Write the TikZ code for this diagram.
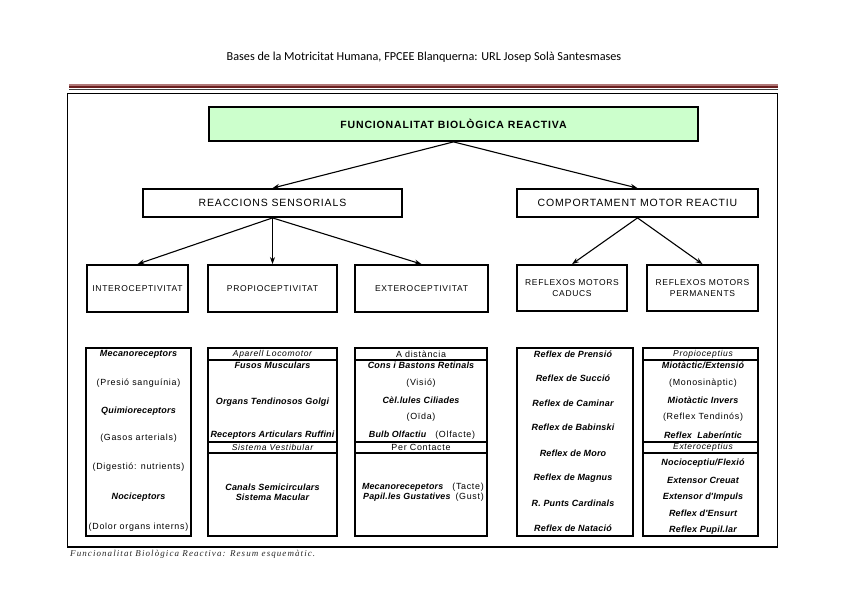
\documentclass[tikz,border=0pt]{standalone}
\usepackage{fontspec}
\setmainfont{Liberation Sans}[LetterSpace=8]
\newfontfamily\hdrfont{Carlito}
\newfontfamily\capfont{Liberation Serif}[LetterSpace=12]
\newfontfamily\bifont{Liberation Sans}[LetterSpace=2]
\usetikzlibrary{arrows.meta}
\definecolor{titlegreen}{HTML}{CCFFCC}
\definecolor{rulelight}{HTML}{B07878}
\definecolor{ruledark}{HTML}{6B1F1F}
\begin{document}
\begin{tikzpicture}[x=1pt,y=-1pt,
  box/.style={draw,line width=1.8pt,inner sep=0pt,align=center},
  arr/.style={line width=1.1pt,-{Stealth[length=7pt,width=5pt]}},
  subthick/.style={line width=1.8pt},
  subthin/.style={line width=1.1pt},
  rg/.style={font=\fontsize{8.9}{10}\selectfont,inner sep=0pt},
  it/.style={font=\fontsize{8.5}{10}\selectfont\itshape,inner sep=0pt},
  bi/.style={font=\fontsize{9}{10}\selectfont\bifont\bfseries\itshape,inner sep=0pt},
  lvl/.style={box,font=\fontsize{8.5}{11}\selectfont},
  top/.style={box,font=\fontsize{10.5}{12}\selectfont},
]
\useasboundingbox (0,0) rectangle (848,599);

% header
\node[font=\hdrfont\fontsize{12.2}{14}\selectfont] (hdr) at (424,57) {Bases de la Motricitat Humana, FPCEE Blanquerna: URL Josep Solà Santesmases};
\draw[rulelight,line width=2pt] (69,85) -- (778,85);
\draw[ruledark,line width=2pt] (69,87) -- (778,87);
\draw[black!75,line width=1pt] (69,89.7) -- (778,89.7);

% frame
\draw[line width=1.5pt] (67.5,93.5) rectangle (777.5,547);
\node[anchor=west,font=\capfont\fontsize{9}{10}\selectfont\itshape,text=black!85,inner sep=0pt] (cap) at (70,554) {Funcionalitat Biològica Reactiva: Resum esquemàtic.};

% top levels
\node[top,fill=titlegreen,minimum width=489,minimum height=34,font=\fontsize{10.5}{12}\selectfont\bfseries] (title) at (453.5,124) {FUNCIONALITAT BIOLÒGICA REACTIVA};
\node[top,minimum width=259,minimum height=28] (rs) at (272.5,203) {REACCIONS SENSORIALS};
\node[top,minimum width=241,minimum height=28] (cmr) at (637.5,203) {COMPORTAMENT MOTOR REACTIU};

\node[lvl,minimum width=101,minimum height=47] (intero) at (137.5,288.5) {INTEROCEPTIVITAT};
\node[lvl,minimum width=129,minimum height=47] (propio) at (272.5,288.5) {PROPIOCEPTIVITAT};
\node[lvl,minimum width=133,minimum height=47] (extero) at (421.5,288.5) {EXTEROCEPTIVITAT};
\node[lvl,minimum width=110,minimum height=46] (caducs) at (572,288) {REFLEXOS MOTORS\\CADUCS};
\node[lvl,minimum width=111,minimum height=46] (perm) at (702.5,288) {REFLEXOS MOTORS\\PERMANENTS};

\draw[arr] (title.south) -- (rs.north);
\draw[arr] (title.south) -- (cmr.north);
\draw[arr] (rs.south) -- (intero.north);
\draw[arr] (rs.south) -- (propio.north);
\draw[arr] (rs.south) -- (extero.north);
\draw[arr] (cmr.south) -- (caducs.north);
\draw[arr] (cmr.south) -- (perm.north);

% bottom boxes
\node[box,minimum width=105,minimum height=188] (b1) at (138.5,442) {};
\node[box,minimum width=129,minimum height=188] (b2) at (272.5,442) {};
\node[box,minimum width=132,minimum height=188] (b3) at (421,442) {};
\node[box,minimum width=116,minimum height=188] (b4) at (575,442) {};
\node[box,minimum width=115,minimum height=188] (b5) at (700.5,442) {};

\foreach \b in {b2,b3,b5}{
  \draw[subthick] (\b.west |- 0,360) -- (\b.east |- 0,360);
  \draw[subthin] (\b.west |- 0,442) -- (\b.east |- 0,442);
  \draw[subthick] (\b.west |- 0,453) -- (\b.east |- 0,453);
}

% box 1 texts
\node[bi] (b1a) at (138.5,354) {Mecanoreceptors};
\node[rg] (b1b) at (138.5,383) {(Presió sanguínia)};
\node[bi] (b1c) at (138.5,411) {Quimioreceptors};
\node[rg] (b1d) at (138.5,438) {(Gasos arterials)};
\node[rg] (b1e) at (138.5,467) {(Digestió: nutrients)};
\node[bi] (b1f) at (138.5,497) {Nociceptors};
\node[rg] (b1g) at (138.5,527) {(Dolor organs interns)};

% box 2 texts
\node[it] (b2a) at (272.5,354) {Aparell Locomotor};
\node[bi] (b2b) at (272.5,365) {Fusos Musculars};
\node[bi] (b2c) at (272.5,402) {Organs Tendinosos Golgi};
\node[bi] (b2d) at (272.5,435) {Receptors Articulars Ruffini};
\node[it] (b2e) at (272.5,447.5) {Sistema Vestibular};
\node[bi] (b2f) at (272.5,487) {Canals Semicirculars};
\node[bi] (b2g) at (272.5,497) {Sistema Macular};

% box 3 texts
\node[rg] (b3a) at (421,354) {A distància};
\node[bi] (b3b) at (421,365) {Cons i Bastons Retinals};
\node[rg] (b3c) at (421,383) {(Visió)};
\node[bi] (b3d) at (421,400) {Cèl.lules Ciliades};
\node[rg] (b3e) at (421,417) {(Oïda)};
\node[rg] (b3f) at (422,435) {{\bifont\bfseries\itshape Bulb Olfactiu}\hspace{9pt}(Olfacte)};
\node[rg] (b3g) at (421,447.5) {Per Contacte};
\node[rg,anchor=east] (b3h) at (484,487) {{\bifont\bfseries\itshape Mecanorecepetors}\hspace{9pt}(Tacte)};
\node[rg,anchor=east] (b3i) at (484,497) {{\bifont\bfseries\itshape Papil.les Gustatives}\hspace{5pt}(Gust)};

% box 4 texts
\node[bi] (b4a) at (573,354) {Reflex de Prensió};
\node[bi] (b4b) at (573,378) {Reflex de Succió};
\node[bi] (b4c) at (573,403) {Reflex de Caminar};
\node[bi] (b4d) at (573,427) {Reflex de Babinski};
\node[bi] (b4e) at (573,453) {Reflex de Moro};
\node[bi] (b4f) at (573,478) {Reflex de Magnus};
\node[bi] (b4g) at (573,503) {R. Punts Cardinals};
\node[bi] (b4h) at (573,528) {Reflex de Natació};

% box 5 texts
\node[it] (b5a) at (703,354) {Propioceptius};
\node[bi] (b5b) at (703,365) {Miotàctic/Extensió};
\node[rg] (b5c) at (703,383) {(Monosinàptic)};
\node[bi] (b5d) at (703,400) {Miotàctic Invers};
\node[rg] (b5e) at (703,417) {(Reflex Tendinós)};
\node[bi] (b5f) at (703,435) {Reflex\ \ Laberíntic};
\node[it] (b5g) at (703,447.5) {Exteroceptius};
\node[bi] (b5h) at (703,463) {Nocioceptiu/Flexió};
\node[bi] (b5i) at (703,480) {Extensor Creuat};
\node[bi] (b5j) at (703,497) {Extensor d'Impuls};
\node[bi] (b5k) at (703,513) {Reflex d'Ensurt};
\node[bi] (b5l) at (703,530) {Reflex Pupil.lar};
\end{tikzpicture}
\end{document}
